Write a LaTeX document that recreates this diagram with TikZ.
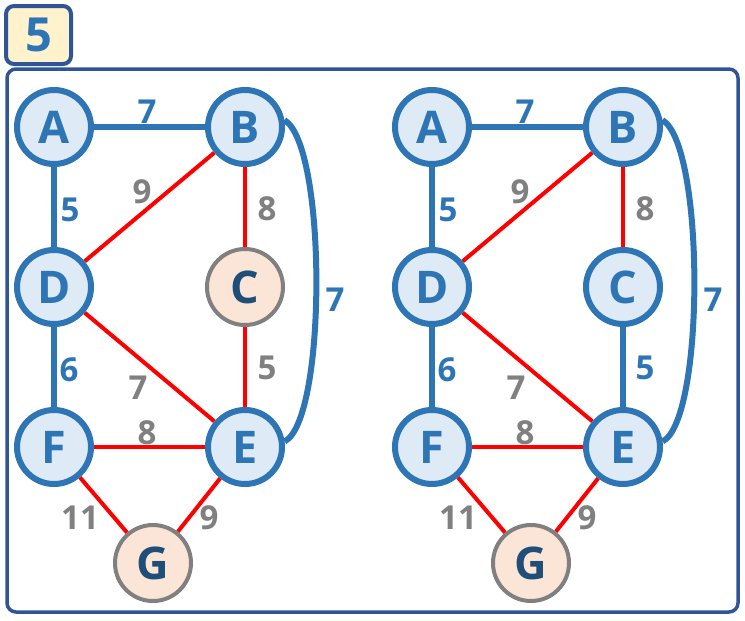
\documentclass[tikz,border=0pt]{standalone}
\usepackage{fontspec}
\setmainfont{Open Sans}
\usetikzlibrary{backgrounds}
\definecolor{nodeblue}{HTML}{2E75B6}
\definecolor{nodefill}{HTML}{DEEBF7}
\definecolor{peach}{HTML}{FBE5D6}
\definecolor{ring}{HTML}{808080}
\definecolor{navy}{HTML}{1F4E79}
\definecolor{framec}{HTML}{2F5597}
\definecolor{tagfill}{HTML}{FFF2CC}
\definecolor{edgered}{HTML}{FF0000}
\tikzset{
  vtx/.style={circle, draw=nodeblue, fill=nodefill, line width=6pt, minimum size=74pt,
    inner sep=0pt, text=nodeblue, font=\fontsize{45}{45}\selectfont\bfseries},
  vtxout/.style={circle, draw=ring, fill=peach, line width=4pt, minimum size=76pt,
    inner sep=0pt, text=navy, font=\fontsize{45}{45}\selectfont\bfseries},
  tree/.style={draw=nodeblue, line width=6pt},
  other/.style={draw=edgered, line width=4pt},
  wtree/.style={text=nodeblue, inner sep=0pt, font=\fontsize{33}{33}\selectfont\bfseries},
  wother/.style={text=ring, inner sep=0pt, font=\fontsize{33}{33}\selectfont\bfseries},
}
\begin{document}
\begin{tikzpicture}[x=1pt, y=-1pt]
\useasboundingbox (0,0) rectangle (745,621);
% number tag and outer frame
\node[draw=framec, fill=tagfill, line width=4pt, rounded corners=8pt,
  minimum width=65pt, minimum height=58pt, inner sep=0pt, text=nodeblue,
  font=\fontsize{47}{47}\selectfont\bfseries] (tag) at (38.5,35) {5};
\draw[framec, line width=3.5pt, rounded corners=9pt] (7,69) rectangle (738,612);

% left graph
\begin{scope}
\node[vtx] (A) at (54,127) {A};
\node[vtx] (B) at (245,127) {B};
\node[vtx] (D) at (54,287) {D};
\node[vtxout] (C) at (245,287) {C};
\node[vtx] (F) at (54,447) {F};
\node[vtx] (E) at (245,447) {E};
\node[vtxout] (G) at (153,563) {G};
\begin{scope}[on background layer]
\draw[tree] (A) -- (B);
\draw[tree] (A) -- (D);
\draw[tree] (D) -- (F);
\draw[tree] (B.10) .. controls (327,145) and (327,420) .. (E.8);
\draw[other] (B) -- (D);
\draw[other] (B) -- (C);
\draw[other] (C) -- (E);
\draw[other] (D) -- (E);
\draw[other] (F) -- (E);
\draw[other] (F) -- (G);
\draw[other] (E) -- (G);
\end{scope}
\node[wtree] (lab1) at (147,112) {7};
\node[wtree] (lab2) at (70,210) {5};
\node[wother] (lab3) at (142,192) {9};
\node[wother] (lab4) at (267,209) {8};
\node[wtree] (lab5) at (335,300) {7};
\node[wother] (lab6) at (267,368) {5};
\node[wtree] (lab7) at (69,370) {6};
\node[wother] (lab8) at (138,388) {7};
\node[wother] (lab9) at (147,433) {8};
\node[wother] (lab10) at (80,518) {11};
\node[wother] (lab11) at (209,518) {9};
\end{scope}

% right graph
\begin{scope}[xshift=378pt]
\node[vtx] (A2) at (54,127) {A};
\node[vtx] (B2) at (245,127) {B};
\node[vtx] (D2) at (54,287) {D};
\node[vtx] (C2) at (245,287) {C};
\node[vtx] (F2) at (54,447) {F};
\node[vtx] (E2) at (245,447) {E};
\node[vtxout] (G2) at (153,563) {G};
\begin{scope}[on background layer]
\draw[tree] (A2) -- (B2);
\draw[tree] (A2) -- (D2);
\draw[tree] (D2) -- (F2);
\draw[tree] (C2) -- (E2);
\draw[tree] (B2.10) .. controls ([xshift=82pt,yshift=-18pt]B2.center) and ([xshift=82pt,yshift=27pt]E2.center) .. (E2.8);
\draw[other] (B2) -- (D2);
\draw[other] (B2) -- (C2);
\draw[other] (D2) -- (E2);
\draw[other] (F2) -- (E2);
\draw[other] (F2) -- (G2);
\draw[other] (E2) -- (G2);
\end{scope}
\node[wtree] (rlab1) at (147,112) {7};
\node[wtree] (rlab2) at (70,210) {5};
\node[wother] (rlab3) at (142,192) {9};
\node[wother] (rlab4) at (267,209) {8};
\node[wtree] (rlab5) at (335,300) {7};
\node[wtree] (rlab6) at (267,368) {5};
\node[wtree] (rlab7) at (69,370) {6};
\node[wother] (rlab8) at (138,388) {7};
\node[wother] (rlab9) at (147,433) {8};
\node[wother] (rlab10) at (80,518) {11};
\node[wother] (rlab11) at (209,518) {9};
\end{scope}
\end{tikzpicture}
\end{document}
